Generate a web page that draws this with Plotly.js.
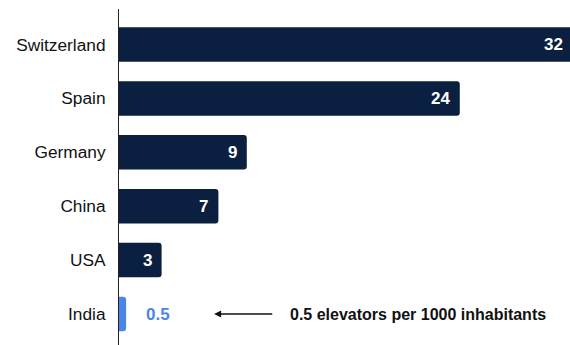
<!DOCTYPE html>
<html>
<head>
<meta charset="utf-8">
<script src="https://cdn.plot.ly/plotly-3.0.1.min.js"></script>
<style>html,body{margin:0;padding:0;background:#fff;overflow:hidden;}#wrap{width:570px;height:345px;overflow:hidden;}#chart{width:586px;height:345px;}</style>
</head>
<body>
<div id="wrap"><div id="chart"></div></div>
<script>
const countries = ["Switzerland", "Spain", "Germany", "China", "USA", "India"];
const elevatorsPer1000 = [32, 24, 9, 7, 3, 0.5];
const barColors = ["#0b1f40", "#0b1f40", "#0b1f40", "#0b1f40", "#0b1f40", "#4a86e8"];
const noteText = "0.5 elevators per 1000 inhabitants";
const noteCountry = "India";

const labelAnnotations = countries.map((c, i) => {
  const isOutside = elevatorsPer1000[i] < 1;
  return {
    x: elevatorsPer1000[i], y: c, xref: "x", yref: "y",
    text: String(elevatorsPer1000[i]),
    showarrow: false,
    xanchor: isOutside ? "left" : "right",
    xshift: isOutside ? 18 : -8,
    font: {family: "Liberation Sans, Arial, sans-serif", size: 17, color: isOutside ? barColors[i] : "#ffffff", weight: "bold"}
  };
});

const arrowAnn = {
  x: 6.7, y: noteCountry, xref: "x", yref: "y",
  ax: 10.9, ay: noteCountry, axref: "x", ayref: "y",
  text: "", showarrow: true, arrowhead: 2, arrowsize: 1, arrowwidth: 1.4, arrowcolor: "#111"
};
const noteAnn = {
  x: 11.9, y: noteCountry, xref: "x", yref: "y",
  text: noteText, showarrow: false, xanchor: "left",
  font: {family: "Liberation Sans, Arial, sans-serif", size: 16, color: "#111", weight: "bold"}
};

const data = [{
  type: "bar",
  orientation: "h",
  y: countries,
  x: elevatorsPer1000,
  marker: {color: barColors, cornerradius: 3},
  hoverinfo: "none",
  cliponaxis: true
}];

const layout = {
  width: 586, height: 345,
  margin: {l: 119, r: 0, t: 9, b: 0},
  paper_bgcolor: "#fff", plot_bgcolor: "#fff",
  showlegend: false,
  bargap: 0.36,
  xaxis: {range: [0, 32.89], visible: false, fixedrange: true},
  yaxis: {
    type: "category",
    range: [5.575, -0.659],
    showline: true, linecolor: "#222", linewidth: 1,
    showgrid: false, zeroline: false,
    ticks: "", ticklabelstandoff: 9,
    tickfont: {family: "Liberation Sans, Arial, sans-serif", size: 17.3, color: "#111"},
    fixedrange: true
  },
  annotations: labelAnnotations.concat([arrowAnn, noteAnn])
};

Plotly.newPlot("chart", data, layout, {displayModeBar: false, staticPlot: true});
</script>
</body>
</html>
